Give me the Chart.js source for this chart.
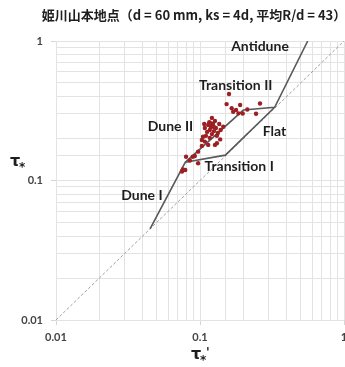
<!DOCTYPE html>
<html lang="ja">
<head>
<meta charset="UTF-8">
<title>姫川山本地点</title>
<script src="https://cdn.jsdelivr.net/npm/chart.js"></script>
<style>
  html, body { margin: 0; padding: 0; background: #fff; overflow: hidden; }
  .chart-box { position: relative; width: 372px; height: 367px; }
</style>
</head>
<body>
<div class="chart-box"><canvas id="bedChart"></canvas></div>
<script>
// 観測値 (τ*' , τ*)
const obsX = [0.159, 0.153, 0.166, 0.170, 0.190, 0.198, 0.185, 0.213, 0.261, 0.245, 0.178,
              0.105, 0.127, 0.114, 0.103, 0.138, 0.139, 0.145, 0.097, 0.092, 0.080, 0.085,
              0.076, 0.075, 0.089, 0.097, 0.079, 0.103, 0.117, 0.108, 0.131,
              0.114, 0.119, 0.123, 0.117, 0.125, 0.112, 0.121, 0.129, 0.116, 0.127,
              0.133, 0.108, 0.121, 0.131, 0.110, 0.107, 0.136, 0.119, 0.125];
const obsY = [0.417, 0.353, 0.330, 0.311, 0.348, 0.302, 0.303, 0.323, 0.356, 0.301, 0.320,
              0.206, 0.180, 0.180, 0.177, 0.197, 0.230, 0.243, 0.161, 0.150, 0.148, 0.139,
              0.120, 0.116, 0.148, 0.133, 0.119, 0.195, 0.202, 0.190, 0.185,
              0.250, 0.242, 0.254, 0.230, 0.226, 0.223, 0.215, 0.238, 0.262, 0.267,
              0.219, 0.238, 0.281, 0.209, 0.209, 0.254, 0.254, 0.258, 0.242];

// 領域境界
const upperX = [0.045, 0.079, 0.20, 0.33, 0.56];
const upperY = [0.045, 0.135, 0.32, 0.335, 1.0];
const lowerX = [0.079, 0.15, 0.33];
const lowerY = [0.135, 0.152, 0.335];
const equalX = [0.01, 1];
const equalY = [0.01, 1];

// 領域名
const regionNames = ['Antidune', 'Transition II', 'Dune II', 'Flat', 'Transition I', 'Dune I'];
const regionX = [0.261, 0.177, 0.0624, 0.329, 0.187, 0.0395];
const regionY = [0.906, 0.476, 0.242, 0.223, 0.127, 0.0787];

const axisMin = 0.01;
const axisMax = 1;

const toPoints = (xs, ys) => xs.map((v, i) => ({ x: v, y: ys[i] }));
const isDecade = v => Math.abs(Math.log10(v) - Math.round(Math.log10(v))) < 1e-6;

const textPlugin = {
    id: 'chartText',
    afterDatasetsDraw(chart) {
        const { ctx, scales: { x, y } } = chart;
        ctx.save();
        ctx.fillStyle = '#1e1e1e';
        ctx.textAlign = 'center';
        ctx.textBaseline = 'middle';
        ctx.font = 'bold 14px Lato';
        regionNames.forEach((name, i) => {
            ctx.fillText(name, x.getPixelForValue(regionX[i]), y.getPixelForValue(regionY[i]));
        });

        // タイトル
        ctx.font = 'bold 13px "Noto Sans CJK JP"';
        ctx.fillText('姫川山本地点（d = 60 mm, ks = 4d, 平均R/d = 43）', 194, 15);

        // 軸ラベル
        ctx.font = 'bold 16px "DejaVu Sans"';
        ctx.textAlign = 'left';
        ctx.fillText('τ', 10, 162);
        ctx.font = 'bold 12px "DejaVu Sans"';
        ctx.fillText('*', 19, 168);

        ctx.font = 'bold 16px "DejaVu Sans"';
        ctx.fillText('τ', 191, 355);
        ctx.font = 'bold 12px "DejaVu Sans"';
        ctx.fillText('*', 200, 361);
        ctx.fillText("'", 206, 353);
        ctx.restore();
    }
};

const gridStyle = {
    color: '#e3e3e3',
    lineWidth: 1,
    tickLength: 5,
    tickColor: c => (c.tick && c.tick.major) ? '#d6d6d6' : 'rgba(0,0,0,0)'
};
const tickStyle = {
    autoSkip: false,
    maxRotation: 0,
    color: '#444',
    font: { family: 'Lato', size: 11, weight: 'bold' },
    callback: v => isDecade(v) ? String(v) : ''
};

new Chart(document.getElementById('bedChart'), {
    type: 'scatter',
    data: {
        datasets: [
            {
                label: '観測値',
                data: toPoints(obsX, obsY),
                backgroundColor: '#9c1f24',
                borderColor: '#9c1f24',
                pointRadius: 2.2,
                borderWidth: 0
            },
            {
                type: 'line',
                data: toPoints(upperX, upperY),
                borderColor: '#595959',
                borderWidth: 1.6,
                pointRadius: 0,
                tension: 0,
                fill: false
            },
            {
                type: 'line',
                data: toPoints(lowerX, lowerY),
                borderColor: '#595959',
                borderWidth: 1.6,
                pointRadius: 0,
                tension: 0,
                fill: false
            },
            {
                type: 'line',
                data: toPoints(equalX, equalY),
                borderColor: '#a0a0a0',
                borderWidth: 1,
                borderDash: [3, 2],
                pointRadius: 0,
                tension: 0,
                fill: false
            }
        ]
    },
    options: {
        responsive: true,
        maintainAspectRatio: false,
        animation: false,
        layout: { padding: { top: 41, right: 28, left: 0, bottom: 0 } },
        plugins: { legend: { display: false }, tooltip: { enabled: false } },
        scales: {
            x: {
                type: 'logarithmic',
                min: axisMin,
                max: axisMax,
                afterFit: s => { s.height = 47; },
                border: { display: false },
                grid: gridStyle,
                ticks: Object.assign({ padding: 6 }, tickStyle)
            },
            y: {
                type: 'logarithmic',
                min: axisMin,
                max: axisMax,
                afterFit: s => { s.width = 56; },
                border: { display: false },
                grid: gridStyle,
                ticks: Object.assign({ padding: 8 }, tickStyle)
            }
        }
    },
    plugins: [textPlugin]
});
</script>
</body>
</html>
